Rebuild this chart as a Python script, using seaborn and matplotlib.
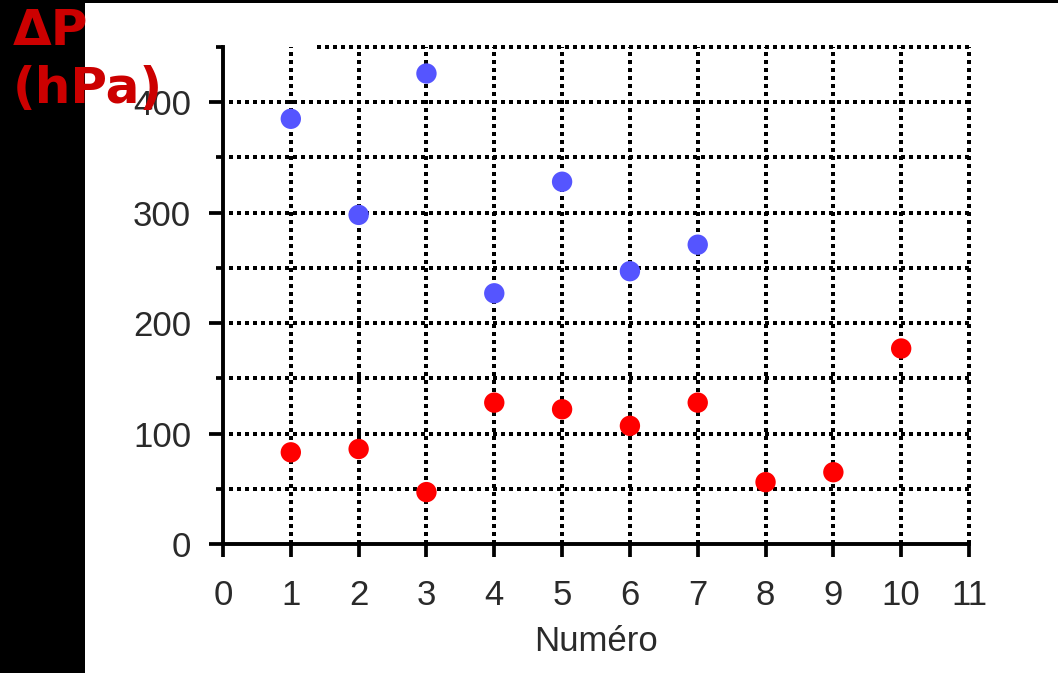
import matplotlib
matplotlib.use("Agg")
import matplotlib.pyplot as plt
from matplotlib.patches import Rectangle
from matplotlib.ticker import MultipleLocator
import numpy as np
import pandas as pd
import seaborn as sns

# ---- data ----
blue_x = [1, 2, 3, 4, 5, 6, 7]
blue_y = [385, 298, 426, 227, 328, 247, 271]
red_x = [1, 2, 3, 4, 5, 6, 7, 8, 9, 10]
red_y = [83, 86, 47, 128, 122, 107, 128, 56, 65, 177]
x_ticks = list(range(0, 12))
y_ticks = [0, 100, 200, 300, 400]
x_label = "Numéro"
y_title_1 = "ΔP"
y_title_2 = "(hPa)"

df = pd.DataFrame({
    "Numéro": blue_x + red_x,
    "dP": blue_y + red_y,
    "serie": ["bleu"] * len(blue_x) + ["rouge"] * len(red_x),
})

sns.set_theme(style="white")
plt.rcParams["font.family"] = ["Liberation Sans", "DejaVu Sans"]

W, H = 1058, 673
fig = plt.figure(figsize=(W / 100, H / 100), dpi=100)
fig.patch.set_facecolor("white")
ax = fig.add_axes([223 / W, 1 - 544 / H, (969 - 223) / W, (544 - 47) / H])
ax.set_facecolor("white")

# black frame strips
fig.patches.append(Rectangle((0, 0), 85 / W, 1, transform=fig.transFigure,
                             facecolor="black", edgecolor="none", zorder=0))
fig.patches.append(Rectangle((0, 1 - 3 / H), 1, 3 / H, transform=fig.transFigure,
                             facecolor="black", edgecolor="none", zorder=0))

ax.set_xlim(0, 11)
ax.set_ylim(0, 450)

dot = dict(color="black", linewidth=2.9, linestyle=(0, (0.9, 1.0)),
           dash_capstyle="butt", antialiased=False, zorder=1, clip_on=False)
# vertical grid
for xv in x_ticks[1:]:
    ax.axvline(xv, **dot)
# horizontal grid
ygrid = np.arange(50, 451, 50)
for yv in ygrid:
    x0 = 1.386 / 11 if yv == 450 else 0.008
    ax.axhline(yv, xmin=x0, xmax=1, **dot)

sns.scatterplot(data=df, x="Numéro", y="dP", hue="serie",
                palette={"bleu": "#5555ff", "rouge": "#ff0000"},
                s=215, linewidth=0, marker="o", legend=False, ax=ax, zorder=3)

for side in ["top", "right"]:
    ax.spines[side].set_visible(False)
for side in ["left", "bottom"]:
    ax.spines[side].set_color("black")
    ax.spines[side].set_linewidth(2.8)

ax.set_xticks(x_ticks)
ax.set_yticks(y_ticks)
ax.yaxis.set_minor_locator(MultipleLocator(50))
ax.tick_params(axis="x", which="major", direction="out", length=9.5, width=2.7,
               color="black", labelsize=25, labelcolor="#2a2a2a", pad=16, bottom=True)
ax.tick_params(axis="y", which="major", direction="out", length=10, width=2.7,
               color="black", labelsize=25, labelcolor="#2a2a2a", pad=13, left=True)
ax.tick_params(axis="y", which="minor", direction="out", length=5, width=2.7,
               color="black", left=True)

ax.set_xlabel(x_label, fontsize=25, color="#2a2a2a", labelpad=9)
ax.set_ylabel("")

red = "#cc0000"
fig.text(13 / W, 1 - 45 / H, y_title_1, color=red, fontsize=36, fontweight="bold",
         family=["DejaVu Sans"], va="baseline", ha="left", zorder=5)
fig.text(13 / W, 1 - 103 / H, y_title_2, color=red, fontsize=36, fontweight="bold",
         family=["DejaVu Sans"], va="baseline", ha="left", zorder=5)

fig.savefig("out.png", dpi=100, facecolor="white")
